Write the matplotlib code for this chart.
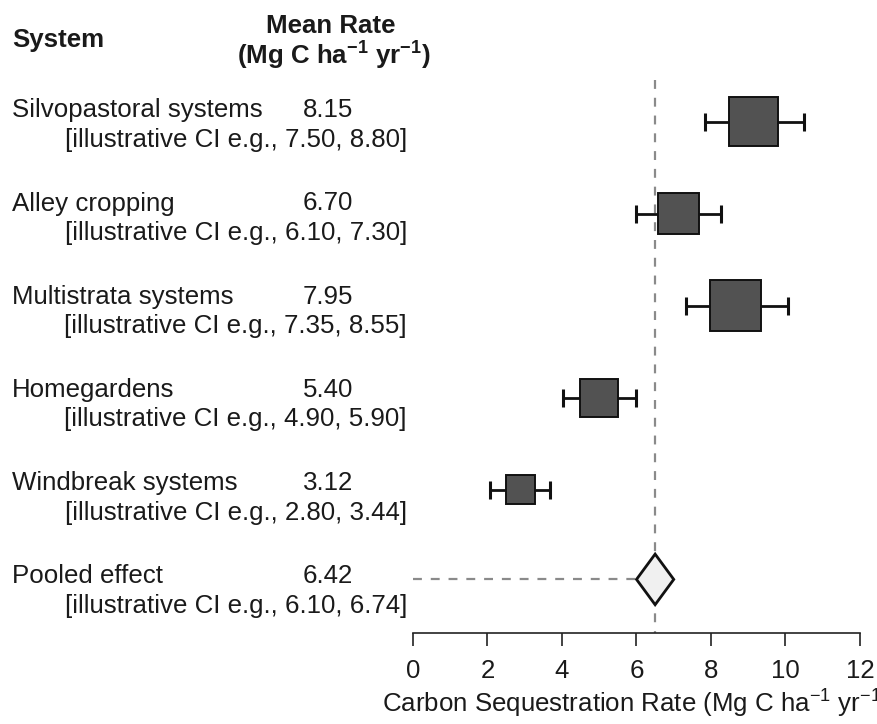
import matplotlib
matplotlib.use("Agg")
import matplotlib.pyplot as plt
import matplotlib.transforms as mtransforms
from matplotlib.patches import Rectangle, Polygon

# ---------------- data ----------------
systems = ["Silvopastoral systems", "Alley cropping", "Multistrata systems",
           "Homegardens", "Windbreak systems"]
mean_labels = ["8.15", "6.70", "7.95", "5.40", "3.12"]
ci_labels = ["[illustrative CI e.g., 7.50, 8.80]",
             "[illustrative CI e.g., 6.10, 7.30]",
             "[illustrative CI e.g., 7.35, 8.55]",
             "[illustrative CI e.g., 4.90, 5.90]",
             "[illustrative CI e.g., 2.80, 3.44]"]
# plotted estimates (as drawn)
est = [9.14, 7.12, 8.67, 5.00, 2.88]
lower = [7.84, 6.00, 7.32, 4.03, 2.08]
upper = [10.51, 8.26, 10.06, 5.98, 3.69]
weights = [1.00, 0.84, 1.05, 0.78, 0.59]   # relative box size

pooled_label = "Pooled effect"
pooled_mean_label = "6.42"
pooled_ci_label = "[illustrative CI e.g., 6.10, 6.74]"
pooled_est = 6.50
pooled_lower = 6.00
pooled_upper = 7.00

xticks = [0, 2, 4, 6, 8, 10, 12]
xlabel = r"Carbon Sequestration Rate (Mg C ha$^{-1}$ yr$^{-1}$)"

# ---------------- style ----------------
W, H = 878, 724
plt.rcParams["font.family"] = ["Liberation Sans", "DejaVu Sans"]
plt.rcParams["mathtext.fontset"] = "custom"
plt.rcParams["mathtext.rm"] = "Liberation Sans"
plt.rcParams["mathtext.it"] = "Liberation Sans:italic"
plt.rcParams["mathtext.bf"] = "Liberation Sans:bold"
plt.rcParams["mathtext.default"] = "regular"

FS = 18.6
TXT = "#1a1a1a"

fig = plt.figure(figsize=(W / 100, H / 100), dpi=100)
x0_px, x1_px = 413, 860
ax = fig.add_axes([x0_px / W, 0, (x1_px - x0_px) / W, 1])
ax.set_xlim(0, 12)
ax.set_ylim(H, 0)   # y in pixel rows
ax.patch.set_alpha(0)

for s in ["top", "right", "left"]:
    ax.spines[s].set_visible(False)
axis_y = 633
ax.spines["bottom"].set_position(("data", axis_y))
ax.spines["bottom"].set_bounds(0, 12)
ax.spines["bottom"].set_linewidth(1.2)
ax.spines["bottom"].set_color("#222222")
ax.set_yticks([])
ax.set_xticks(xticks)
ax.set_xticklabels([str(t) for t in xticks])
ax.tick_params(axis="x", direction="out", length=9, width=1.2, color="#222222",
               labelsize=FS, labelcolor=TXT, pad=10)
ax.set_xlabel(xlabel, fontsize=FS, color=TXT, labelpad=3)

# row positions
row_y0, row_step = 121.7, 92.0
rows = [row_y0 + i * row_step for i in range(len(systems))]
pooled_y = row_y0 + len(systems) * row_step - 2.3

px_per_unit = (x1_px - x0_px) / 12.0
box_base_px = 48.5

# reference lines
ax.plot([pooled_est, pooled_est], [80, axis_y], color="#8a8a8a", lw=1.6,
        dashes=(4, 4), zorder=1)
ax.plot([0, pooled_lower], [pooled_y, pooled_y], color="#8a8a8a", lw=1.6,
        dashes=(4, 4), zorder=1)

# whiskers
ax.errorbar(est, rows,
            xerr=[[e - l for e, l in zip(est, lower)],
                  [u - e for e, u in zip(est, upper)]],
            fmt="none", ecolor="#111111", elinewidth=2.0, capsize=6.5,
            capthick=2.2, zorder=2)

# boxes
for e, y, w in zip(est, rows, weights):
    side = box_base_px * w
    ax.add_patch(Rectangle((e - side / 2 / px_per_unit, y - side / 2),
                           side / px_per_unit, side,
                           facecolor="#525252", edgecolor="#111111",
                           lw=1.4, zorder=3))

# pooled diamond
dh = 25.3
ax.add_patch(Polygon([(pooled_lower, pooled_y), (pooled_est, pooled_y - dh),
                      (pooled_upper, pooled_y), (pooled_est, pooled_y + dh)],
                     closed=True, facecolor="#f0f0f0", edgecolor="#111111",
                     lw=2.0, zorder=3))

# ---------------- text columns ----------------
xfig = mtransforms.Affine2D().scale(1.0 / W, 1.0) + fig.transFigure
tr = mtransforms.blended_transform_factory(xfig, ax.transData)

def t(x, y, s, **kw):
    ax.text(x, y, s, transform=tr, fontsize=FS, color=TXT, va="baseline",
            clip_on=False, **kw)

t(12, 47, "System", fontweight="bold", ha="left")
t(331, 33, "Mean Rate", fontweight="bold", ha="center")
t(334, 65, r"(Mg C ha$^{\mathbf{-1}}$ yr$^{\mathbf{-1}}$)", fontweight="bold",
  ha="center")

lab_y0, lab_step, ci_off = 117.3, 93.2, 29.5
labels_all = systems + [pooled_label]
means_all = mean_labels + [pooled_mean_label]
cis_all = ci_labels + [pooled_ci_label]
for i, (lab, m, ci) in enumerate(zip(labels_all, means_all, cis_all)):
    yb = lab_y0 + i * lab_step
    t(12, yb, lab, ha="left")
    t(328, yb, m, ha="center")
    t(407, yb + ci_off, ci, ha="right")

fig.savefig("out.png", dpi=100)
